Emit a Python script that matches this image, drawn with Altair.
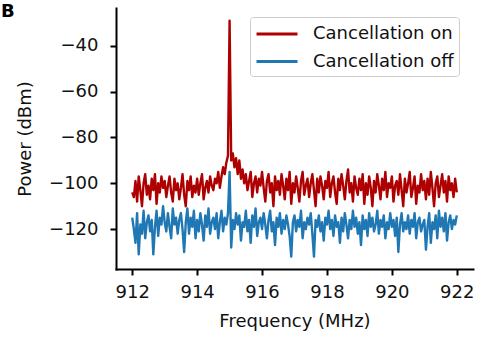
import altair as alt
import pandas as pd

# frequency grid (MHz), 0.05 MHz steps from 912 to 922
freq = [round(912 + 0.05 * i, 2) for i in range(201)]

cancel_on = [
    -104, -106, -99, -108, -97, -103, -110, -100, -96, -105,
    -101, -107, -98, -103, -96, -109, -100, -104, -97, -102,
    -99, -106, -101, -97, -104, -108, -98, -103, -100, -107,
    -102, -96, -105, -110, -99, -103, -97, -106, -101, -104,
    -98, -105, -100, -96, -107, -102, -99, -104, -97, -101,
    -103, -98, -100, -95, -102, -97, -93, -96, -91, -88,
    -29,
    -90, -87, -93, -89, -96, -90, -98, -94, -100,
    -96, -103, -99, -95, -106, -100, -97, -104, -98, -101,
    -95, -102, -108, -99, -96, -104, -100, -110, -97, -103,
    -99, -105, -96, -101, -107, -98, -103, -95, -109, -100,
    -104, -97, -102, -108, -99, -95, -105, -101, -98, -106,
    -100, -96, -103, -110, -98, -104, -97, -101, -107, -99,
    -102, -95, -106, -100, -97, -104, -109, -98, -103, -96,
    -101, -107, -99, -94, -104, -100, -108, -97, -102, -105,
    -98, -103, -96, -109, -100, -105, -97, -102, -110, -99,
    -104, -96, -101, -107, -98, -103, -95, -106, -100, -102,
    -97, -108, -101, -99, -105, -96, -103, -110, -98, -104,
    -100, -95, -106, -102, -97, -109, -101, -104, -96, -103,
    -99, -107, -98, -105, -95, -102, -110, -100, -97, -106,
    -101, -96, -104, -99, -108, -97, -103, -100, -106, -98,
    -104,
]

cancel_off = [
    -115, -120, -126, -113, -131, -118, -122, -112, -124, -117,
    -114, -121, -116, -131, -119, -112, -123, -115, -118, -110,
    -117, -121, -113, -119, -124, -111, -118, -115, -122, -116,
    -113, -120, -130, -117, -111, -122, -115, -119, -112, -124,
    -116, -121, -113, -118, -125, -114, -119, -111, -122, -117,
    -115, -120, -113, -124, -117, -112, -121, -115, -118, -113,
    -95,
    -128, -116, -120, -113, -118, -114, -125, -117, -119,
    -112, -121, -116, -126, -114, -119, -111, -123, -117, -115,
    -120, -113, -118, -124, -116, -112, -121, -117, -127, -115,
    -119, -113, -122, -116, -120, -114, -118, -123, -132, -117,
    -114, -121, -116, -119, -112, -124, -117, -120, -115, -118,
    -113, -122, -132, -116, -119, -114, -121, -117, -125, -115,
    -118, -112, -120, -116, -123, -114, -119, -117, -126, -115,
    -121, -113, -118, -124, -116, -120, -112, -119, -115, -122,
    -117, -127, -114, -120, -116, -123, -113, -119, -115, -121,
    -118, -112, -122, -116, -119, -114, -124, -117, -120, -113,
    -119, -116, -123, -115, -130, -118, -113, -121, -117, -120,
    -114, -122, -116, -119, -113, -124, -117, -115, -121, -118,
    -116, -129, -119, -113, -126, -117, -120, -114, -124, -112,
    -119, -115, -121, -113, -125, -117, -114, -120, -116, -118,
    -114,
]

series_names = ["Cancellation on", "Cancellation off"]
series_colors = ["#ae0000", "#1f77b4"]
x_ticks = [912, 914, 916, 918, 920, 922]
y_ticks = [-120, -100, -80, -60, -40]
panel_label = ["B"]

df = pd.concat([
    pd.DataFrame({"freq": freq, "power": cancel_on, "series": series_names[0]}),
    pd.DataFrame({"freq": freq, "power": cancel_off, "series": series_names[1]}),
])

FONT = "DejaVu Sans"

x_enc = alt.X("freq:Q",
              scale=alt.Scale(domain=[911.5, 922.5], nice=False, zero=False),
              axis=alt.Axis(values=x_ticks, title="Frequency (MHz)", format="d",
                            labelPadding=8, titlePadding=11))
y_enc = alt.Y("power:Q",
              scale=alt.Scale(domain=[-137.4, -23.5], nice=False, zero=False),
              axis=alt.Axis(values=y_ticks, title="Power (dBm)", format="d",
                            labelPadding=12, titlePadding=14))
color_enc = alt.Color("series:N",
                      scale=alt.Scale(domain=series_names, range=series_colors),
                      legend=alt.Legend(title=None, orient="none", legendX=134, legendY=9,
                                        symbolType="M-2,0H2", symbolSize=420,
                                        symbolStrokeWidth=3, symbolOffset=10,
                                        labelFontSize=18, labelFont=FONT, labelOffset=24,
                                        padding=5, rowPadding=6.5,
                                        strokeColor="#cccccc", fillColor="white",
                                        cornerRadius=3, labelColor="#111111"))

base = alt.Chart(df).mark_line(strokeWidth=2.4, strokeJoin="round").encode(
    x=x_enc, y=y_enc, color=color_enc
)

on_layer = base.transform_filter(alt.datum.series == series_names[0])
off_layer = base.transform_filter(alt.datum.series == series_names[1])

label_layer = alt.Chart(pd.DataFrame({"t": panel_label})).mark_text(
    font=FONT, fontSize=18, fontWeight="bold", color="black",
    align="left", baseline="alphabetic"
).encode(x=alt.value(-115), y=alt.value(9), text="t:N")

chart = alt.layer(on_layer, off_layer, label_layer).properties(
    width=357, height=261,
    autosize=alt.AutoSizeParams(type="none"),
    padding={"left": 116, "top": 8, "right": 18, "bottom": 74},
).configure_view(stroke=None).configure_axis(
    grid=False, domainColor="black", domainWidth=2, tickColor="black", tickWidth=2,
    tickSize=6, labelFont=FONT, titleFont=FONT, labelFontSize=18, titleFontSize=18,
    labelColor="#111111", titleColor="#111111", titleFontWeight="normal"
).configure_axisY(domainCap="square").configure_axisX(domainCap="square")

chart.save("out.html", embed_options={"renderer": "svg", "actions": False})
